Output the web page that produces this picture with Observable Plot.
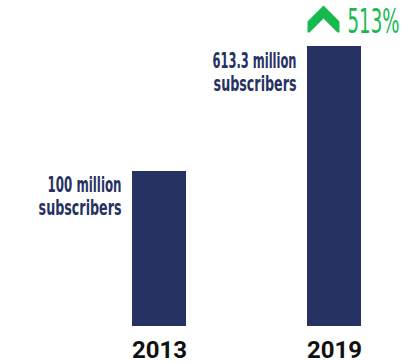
<!DOCTYPE html>
<html><head><meta charset="utf-8">
<script src="https://cdn.jsdelivr.net/npm/d3@7"></script>
<script src="https://cdn.jsdelivr.net/npm/@observablehq/plot@0.6"></script>
<style>html,body{margin:0;padding:0;background:#fff;} svg{display:block}</style>
</head><body><div id="chart"></div>
<script>
const years = ["2013", "2019"];
const subscribers = [100, 613.3]; // millions
const valueLabels = ["100 million", "613.3 million"];
const unitLabel = "subscribers";
const growthLabel = "513%";

const data = years.map((year, i) => ({year, value: subscribers[i], label: valueLabels[i], unit: unitLabel}));
const last = [data[data.length - 1]].map(d => ({...d, growth: growthLabel}));

const NAVY = "#263262", GREEN = "#17ba4e";
const condensed = "'Liberation Sans Narrow','DejaVu Sans Condensed','Arial Narrow',sans-serif";

const chevron = {
  draw(ctx) {
    ctx.moveTo(-16, 2); ctx.lineTo(0, -14); ctx.lineTo(16, 2); ctx.lineTo(16, 13);
    ctx.lineTo(14, 13); ctx.lineTo(0, -1); ctx.lineTo(-14, 13); ctx.lineTo(-16, 13);
    ctx.closePath();
  }
};

const chart = Plot.plot({
  width: 402, height: 364,
  marginTop: 0, marginRight: 0, marginBottom: 38, marginLeft: 0,
  style: {background: "#fff"},
  x: {type: "band", domain: years, range: [131, 361], paddingInner: 0.693, paddingOuter: 0, axis: null},
  y: {type: "pow", exponent: 0.326, domain: [0, d3.max(subscribers)], range: [326, 46], axis: null},
  marks: [
    Plot.barY(data, {x: "year", y: "value", fill: NAVY}),
    Plot.text(data, {x: "year", y: "value", text: "label", dx: -38, dy: 21, textAnchor: "end", lineAnchor: "bottom",
      fontSize: 21, fontWeight: "bold", fontFamily: condensed, fill: NAVY}),
    Plot.text(data, {x: "year", y: "value", text: "unit", dx: -38, dy: 44, textAnchor: "end", lineAnchor: "bottom",
      fontSize: 21, fontWeight: "bold", fontFamily: condensed, fill: NAVY}),
    Plot.text(data, {x: "year", frameAnchor: "bottom", text: "year", dy: 31, lineAnchor: "bottom",
      fontSize: 24, fontWeight: "bold", fontFamily: "Roboto, sans-serif", fill: "#111"}),
    Plot.dot(last, {x: "year", y: "value", symbol: chevron, fill: GREEN, stroke: "none", dx: -11, dy: -27}),
    Plot.text(last, {x: "year", y: "value", text: "growth", dx: 13, dy: -14, textAnchor: "start", lineAnchor: "bottom",
      fontSize: 34, fontWeight: "normal", fontFamily: condensed, fill: GREEN})
  ]
});

document.getElementById("chart").appendChild(chart);

// condense the narrow labels horizontally to the reference's widths
const widths = {"100 million": 74, "613.3 million": 84, "subscribers": 83, "513%": 52};
d3.select(chart).selectAll("text").each(function () {
  const w = widths[this.textContent];
  if (!w) return;
  const len = this.getComputedTextLength();
  if (len > 0) {
    const t = this.getAttribute("transform") || "";
    this.setAttribute("transform", `${t} scale(${w / len},1)`);
  }
});
</script>
</body></html>
